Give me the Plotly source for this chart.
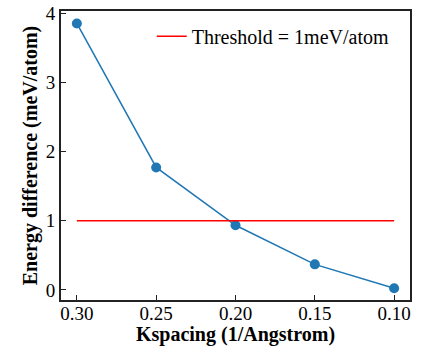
import plotly.graph_objects as go

kspacing = [0.30, 0.25, 0.20, 0.15, 0.10]
energy_diff = [3.85, 1.77, 0.935, 0.37, 0.025]
threshold_x = [0.30, 0.10]
threshold_y = [1, 1]
x_ticks = [0.30, 0.25, 0.20, 0.15, 0.10]
x_tick_labels = ["0.30", "0.25", "0.20", "0.15", "0.10"]
y_ticks = [0, 1, 2, 3, 4]

FONT = "Liberation Serif"

fig = go.Figure()
fig.add_trace(go.Scatter(
    x=kspacing, y=energy_diff, mode="lines+markers",
    line=dict(color="#1f77b4", width=1.5),
    marker=dict(color="#1f77b4", size=10),
    showlegend=False,
))
fig.add_trace(go.Scatter(
    x=threshold_x, y=threshold_y, mode="lines",
    line=dict(color="red", width=1.5),
    name="Threshold = 1meV/atom",
))

fig.update_layout(
    width=428, height=346,
    margin=dict(l=61, r=18, t=11, b=46, autoexpand=False),
    paper_bgcolor="white", plot_bgcolor="white",
    font=dict(family=FONT, size=19, color="black"),
    legend=dict(x=0.26, y=0.913, xanchor="left", yanchor="middle",
                bgcolor="rgba(0,0,0,0)", font=dict(family=FONT, size=20)),
    xaxis=dict(
        range=[0.31, 0.09], tickvals=x_ticks, ticktext=x_tick_labels,
        ticks="inside", ticklen=5, tickwidth=1.2, tickcolor="#222",
        showline=True, linecolor="#222", linewidth=2, mirror=True,
        showgrid=False, zeroline=False, automargin=False,
        tickfont=dict(family=FONT, size=19), ticklabeloverflow="allow",
        ticklabelstandoff=-5,
        title=dict(text="<b>Kspacing (1/Angstrom)</b>", standoff=3,
                   font=dict(family=FONT, size=20)),
    ),
    yaxis=dict(
        range=[-0.145, 4.03], tickvals=y_ticks,
        ticks="inside", ticklen=5, tickwidth=1.2, tickcolor="#222",
        showline=True, linecolor="#222", linewidth=2, mirror=True,
        showgrid=False, zeroline=False, automargin=False,
        tickfont=dict(family=FONT, size=19), ticklabeloverflow="allow",
        title=dict(text="<b>Energy difference (meV/atom)</b>", standoff=3,
                   font=dict(family=FONT, size=20)),
    ),
)

# remove the page's default 8px body margin so the figure fills the window
fig.write_html("out.html", config={"displayModeBar": False},
               post_script="document.body.style.margin='0';")
